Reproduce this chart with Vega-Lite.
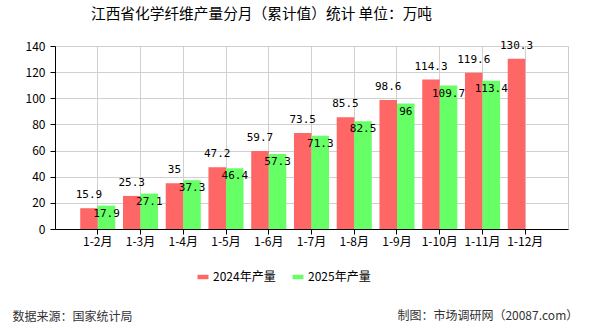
{
  "$schema": "https://vega.github.io/schema/vega-lite/v6.json",
  "width": 513,
  "height": 183,
  "autosize": {"type": "none"},
  "padding": {"left": 55, "top": 46, "right": 22, "bottom": 101},
  "background": "white",
  "title": {"text": "江西省化学纤维产量分月（累计值）统计 单位：万吨", "anchor": "middle", "dx": -50, "offset": 18, "fontSize": 14.7, "fontWeight": "normal", "font": "Noto Sans CJK SC", "color": "#000000"},
  "config": {"view": {"stroke": "#cccccc"}, "font": "Noto Sans CJK SC"},
  "layer": [
    {
      "data": {"values": [
        {"month": "1-2月", "series": "2024年产量", "value": 15.9},
        {"month": "1-3月", "series": "2024年产量", "value": 25.3},
        {"month": "1-4月", "series": "2024年产量", "value": 35},
        {"month": "1-5月", "series": "2024年产量", "value": 47.2},
        {"month": "1-6月", "series": "2024年产量", "value": 59.7},
        {"month": "1-7月", "series": "2024年产量", "value": 73.5},
        {"month": "1-8月", "series": "2024年产量", "value": 85.5},
        {"month": "1-9月", "series": "2024年产量", "value": 98.6},
        {"month": "1-10月", "series": "2024年产量", "value": 114.3},
        {"month": "1-11月", "series": "2024年产量", "value": 119.6},
        {"month": "1-12月", "series": "2024年产量", "value": 130.3},
        {"month": "1-2月", "series": "2025年产量", "value": 17.9},
        {"month": "1-3月", "series": "2025年产量", "value": 27.1},
        {"month": "1-4月", "series": "2025年产量", "value": 37.3},
        {"month": "1-5月", "series": "2025年产量", "value": 46.4},
        {"month": "1-6月", "series": "2025年产量", "value": 57.3},
        {"month": "1-7月", "series": "2025年产量", "value": 71.3},
        {"month": "1-8月", "series": "2025年产量", "value": 82.5},
        {"month": "1-9月", "series": "2025年产量", "value": 96},
        {"month": "1-10月", "series": "2025年产量", "value": 109.7},
        {"month": "1-11月", "series": "2025年产量", "value": 113.4}
      ]},
      "encoding": {
        "x": {"field": "month", "type": "nominal", "sort": null,
          "scale": {"domain": ["1-2月","1-3月","1-4月","1-5月","1-6月","1-7月","1-8月","1-9月","1-10月","1-11月","1-12月"], "paddingInner": 0.18, "paddingOuter": 0.59},
          "axis": {"labelAngle": 0, "labelFontSize": 12, "labelColor": "#000000", "labelFont": "Noto Sans CJK SC", "domainColor": "#000000", "tickColor": "#000000", "tickSize": 5, "grid": true, "gridColor": "#d0d0d0", "bandPosition": 0.5, "labelPadding": 2,
            "title": "数据来源：国家统计局", "titleFontSize": 12, "titleFontWeight": "normal", "titleColor": "#333333", "titleAnchor": "start", "titleAlign": "left", "titleBaseline": "middle", "titleX": -43, "titleY": 87}},
        "xOffset": {"field": "series", "type": "nominal", "scale": {"domain": ["2024年产量", "2025年产量"]}},
        "y": {"field": "value", "type": "quantitative", "scale": {"domain": [0, 140], "nice": false},
          "axis": {"values": [0,20,40,60,80,100,120,140], "title": null, "labelFontSize": 12, "labelColor": "#000000", "domainColor": "#000000", "tickColor": "#000000", "tickSize": 5, "labelPadding": 5, "gridColor": "#d0d0d0"}}
      },
      "layer": [
        {
          "mark": {"type": "bar"},
          "encoding": {
            "color": {"field": "series", "type": "nominal",
              "scale": {"domain": ["2024年产量", "2025年产量"], "range": ["#FF6666", "#66FF66"]},
              "legend": {"orient": "none", "legendX": 142, "legendY": 225, "direction": "horizontal", "title": null, "symbolType": "M-1,-0.4H1V0.4H-1Z", "symbolSize": 121, "symbolStrokeWidth": 0, "labelFontSize": 12, "labelColor": "#000000", "columnPadding": 16, "symbolOffset": 0}}
          }
        },
        {
          "transform": [{"filter": "datum.series === '2024年产量'"}],
          "mark": {"type": "text", "dy": -13, "baseline": "middle", "font": "DejaVu Sans Mono", "fontSize": 11, "color": "#000000"},
          "encoding": {"text": {"field": "value", "type": "quantitative"}}
        },
        {
          "transform": [{"filter": "datum.series === '2025年产量'"}],
          "mark": {"type": "text", "dy": 8, "baseline": "middle", "font": "DejaVu Sans Mono", "fontSize": 11, "color": "#000000"},
          "encoding": {"text": {"field": "value", "type": "quantitative"}}
        }
      ]
    },
    {
      "data": {"values": [{"footer": "制图：市场调研网（20087.com）", "month": "1-12月", "value": 0}]},
      "mark": {"type": "text", "align": "right", "baseline": "middle", "dx": 53, "dy": 87, "fontSize": 12, "color": "#333333"},
      "encoding": {
        "x": {"field": "month", "type": "nominal", "sort": null,
          "scale": {"domain": ["1-2月","1-3月","1-4月","1-5月","1-6月","1-7月","1-8月","1-9月","1-10月","1-11月","1-12月"], "paddingInner": 0.18, "paddingOuter": 0.59},
          "axis": {"labelAngle": 0, "labelFontSize": 12, "labelColor": "#000000", "labelFont": "Noto Sans CJK SC", "domainColor": "#000000", "tickColor": "#000000", "tickSize": 5, "grid": true, "gridColor": "#d0d0d0", "bandPosition": 0.5, "labelPadding": 2,
            "title": "数据来源：国家统计局", "titleFontSize": 12, "titleFontWeight": "normal", "titleColor": "#333333", "titleAnchor": "start", "titleAlign": "left", "titleBaseline": "middle", "titleX": -43, "titleY": 87}},
        "y": {"field": "value", "type": "quantitative", "scale": {"domain": [0, 140], "nice": false},
          "axis": {"values": [0,20,40,60,80,100,120,140], "title": null, "labelFontSize": 12, "labelColor": "#000000", "domainColor": "#000000", "tickColor": "#000000", "tickSize": 5, "labelPadding": 5, "gridColor": "#d0d0d0"}},
        "text": {"field": "footer", "type": "nominal"}
      }
    }
  ]
}
